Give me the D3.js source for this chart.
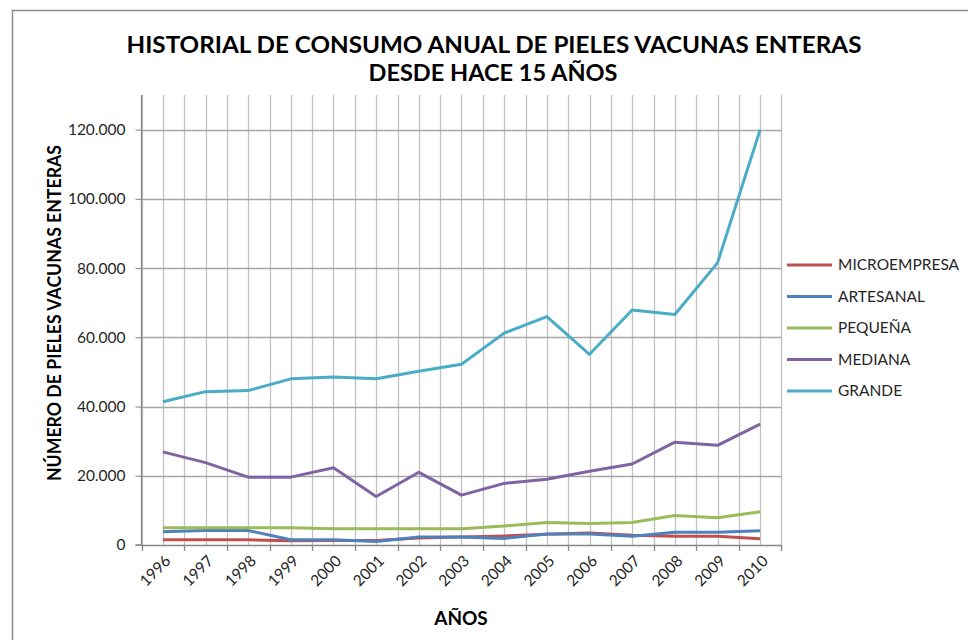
<!DOCTYPE html>
<html><head><meta charset="utf-8">
<script src="https://cdn.jsdelivr.net/npm/d3@7"></script>
<style>html,body{margin:0;padding:0;background:#fff;}svg{display:block;}</style>
</head><body>
<script>
const years = ["1996","1997","1998","1999","2000","2001","2002","2003","2004","2005","2006","2007","2008","2009","2010"];
const seriesNames = ["MICROEMPRESA","ARTESANAL","PEQUEÑA","MEDIANA","GRANDE"];
const seriesColors = ["#C0504D","#4F81BD","#9BBB59","#8064A2","#4BACC6"];
const microempresa = [1500,1500,1500,1200,1300,1300,2000,2300,2600,3100,3500,2800,2500,2500,1800];
const artesanal = [3800,4200,4200,1500,1500,1000,2300,2300,1900,3200,3200,2500,3700,3700,4100];
const pequena = [5000,5000,5000,5000,4700,4700,4700,4700,5500,6500,6200,6500,8500,7900,9600];
const mediana = [26900,23800,19600,19600,22300,14000,21000,14400,17800,19000,21300,23400,29700,28800,34900];
const grande = [41400,44300,44600,48000,48500,48000,50200,52200,61200,66000,55100,67900,66600,81500,120000];
const yTicks = [0,20000,40000,60000,80000,100000,120000];
const yTickLabels = ["0","20.000","40.000","60.000","80.000","100.000","120.000"];
const allSeries = [microempresa, artesanal, pequena, mediana, grande];

(function(){
const W = 968, H = 640;
const FONT = "Lato, 'Open Sans', sans-serif";
const svg = d3.select("body").append("svg").attr("width", W).attr("height", H);
svg.append("rect").attr("x",0).attr("y",0).attr("width",W).attr("height",H).attr("fill","#fff");
svg.append("rect").attr("x",12.5).attr("y",10.5).attr("width",W).attr("height",H)
  .attr("fill","none").attr("stroke","#8c8c8c").attr("stroke-width",1.5);

const pL = 141.5, pR = 781.5, pT = 95, pB = 545;
const x = d3.scaleBand().domain(years).range([pL, pR]).padding(0);
const y = d3.scaleLinear().domain([0,130000]).range([pB, pT]);
const bw = x.bandwidth();

const grid = svg.append("g");
const vPos = [];
years.forEach(yr => { vPos.push(x(yr)); vPos.push(x(yr) + bw/2); });
vPos.push(x(years[years.length-1]) + bw);
grid.selectAll("line.v").data(vPos).enter().append("line")
  .attr("x1", d => Math.round(d)+0.5).attr("x2", d => Math.round(d)+0.5)
  .attr("y1", pT).attr("y2", pB).attr("stroke","#c0c0c0").attr("stroke-width",1.3);
grid.selectAll("line.h").data(yTicks.slice(1)).enter().append("line")
  .attr("x1", pL).attr("x2", pR)
  .attr("y1", d => Math.round(y(d))+0.5).attr("y2", d => Math.round(y(d))+0.5)
  .attr("stroke","#a6a6a6").attr("stroke-width",1.3);

const yAxis = d3.axisLeft(y).tickValues(yTicks).tickSize(6).tickPadding(10)
  .tickFormat((d,i) => yTickLabels[i]);
const gy = svg.append("g").attr("transform", `translate(${pL},0)`).call(yAxis);
gy.select(".domain").attr("stroke","#868686").attr("stroke-width",1.3).attr("d", `M-6,${pB}H0V${pT}`);
gy.selectAll(".tick line").attr("stroke","#868686");
gy.selectAll("text").attr("font-family",FONT).attr("font-size",15.5).attr("fill","#262626");

const gx = svg.append("g").attr("transform", `translate(0,${pB})`);
gx.append("line").attr("x1",pL).attr("x2",pR).attr("y1",0.5).attr("y2",0.5)
  .attr("stroke","#868686").attr("stroke-width",1.5);
gx.selectAll("line.t").data(vPos.filter((d,i)=> i%2===0)).enter().append("line")
  .attr("x1", d => Math.round(d)+0.5).attr("x2", d => Math.round(d)+0.5)
  .attr("y1",0).attr("y2",6).attr("stroke","#868686").attr("stroke-width",1.3);
gx.selectAll("text").data(years).enter().append("text")
  .attr("transform", d => `translate(${x(d)+bw/2+5},13) rotate(-45)`)
  .attr("text-anchor","end").attr("dy","0.35em")
  .attr("font-family",FONT).attr("font-size",15.5).attr("fill","#262626")
  .text(d => d);

const line = d3.line().x((d,i) => x(years[i]) + bw/2).y(d => y(d));
svg.append("g").selectAll("path").data(allSeries).enter().append("path")
  .attr("d", d => line(d)).attr("fill","none")
  .attr("stroke", (d,i) => seriesColors[i]).attr("stroke-width",3)
  .attr("stroke-linejoin","round");

svg.append("text").attr("x",494).attr("y",53).attr("text-anchor","middle")
  .attr("font-family",FONT).attr("font-weight","bold")
  .attr("font-size",22).attr("fill","#000")
  .attr("textLength",735).attr("lengthAdjust","spacingAndGlyphs")
  .text("HISTORIAL DE CONSUMO ANUAL DE PIELES VACUNAS ENTERAS");
svg.append("text").attr("x",493).attr("y",81).attr("text-anchor","middle")
  .attr("font-family",FONT).attr("font-weight","bold")
  .attr("font-size",22).attr("fill","#000")
  .attr("textLength",249).attr("lengthAdjust","spacingAndGlyphs")
  .text("DESDE HACE 15 AÑOS");

svg.append("text").attr("transform","translate(61,313) rotate(-90)").attr("text-anchor","middle")
  .attr("font-family",FONT).attr("font-weight","bold")
  .attr("font-size",18).attr("fill","#000")
  .attr("textLength",336).attr("lengthAdjust","spacingAndGlyphs")
  .text("NÚMERO DE PIELES VACUNAS ENTERAS");

svg.append("text").attr("x",461).attr("y",625).attr("text-anchor","middle")
  .attr("font-family",FONT).attr("font-weight","bold")
  .attr("font-size",19).attr("fill","#000")
  .text("AÑOS");

const lg = svg.append("g");
seriesNames.forEach((n,i) => {
  const ly = 265 + i*31.5;
  lg.append("line").attr("x1",787).attr("x2",832).attr("y1",ly).attr("y2",ly)
    .attr("stroke",seriesColors[i]).attr("stroke-width",3);
  lg.append("text").attr("x",838).attr("y",ly).attr("dy","0.35em")
    .attr("font-family",FONT).attr("font-size",15.5).attr("fill","#262626")
    .text(n);
});
})();
</script>
</body></html>
